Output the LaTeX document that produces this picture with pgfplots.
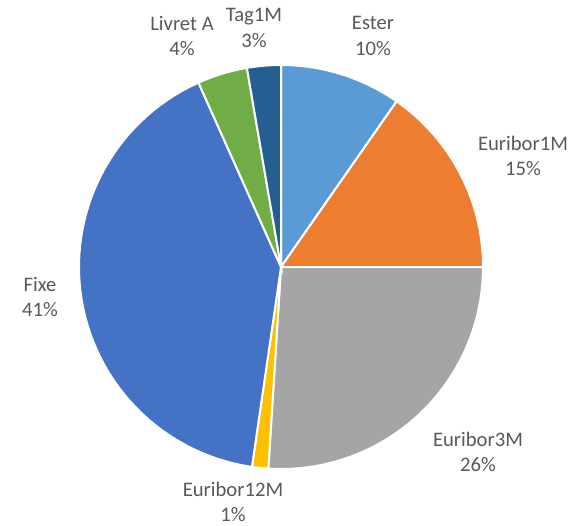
\documentclass[border=0pt]{standalone}
\usepackage{pgfplots}
\pgfplotsset{compat=1.18}
\usepackage{fontspec}
\setmainfont{Carlito}
\definecolor{cEster}{HTML}{5B9BD5}
\definecolor{cE1}{HTML}{ED7D31}
\definecolor{cE3}{HTML}{A5A5A5}
\definecolor{cE12}{HTML}{FFC000}
\definecolor{cFixe}{HTML}{4472C4}
\definecolor{cLivret}{HTML}{70AD47}
\definecolor{cTag}{HTML}{255E91}
\definecolor{txt}{HTML}{595959}
% shares in percent (clockwise from top): Ester 9.7, Euribor1M 15.3, Euribor3M 26.0,
% Euribor12M 1.3, Fixe 41.0, Livret A 4.0, Tag1M 2.7
\newcommand{\slice}[3]{% start%, end%, colour
  \addplot[fill=#3, draw=white, line width=1.5pt, domain={#1*3.6}:{#2*3.6}, samples=60]
    ({281+202*sin(x)},{267-202*cos(x)}) -- (axis cs:281,267) -- cycle;
}
\tikzset{lbl/.style={font=\fontsize{15.5pt}{19pt}\selectfont, text=txt, align=center, inner sep=0pt}}
\begin{document}
\begin{tikzpicture}
\begin{axis}[
  scale only axis, width=432.75pt, height=393.75pt,
  xmin=0, xmax=577, ymin=0, ymax=525, y dir=reverse,
  hide axis, clip=false,
]
\path (rel axis cs:0,0) rectangle (rel axis cs:1,1);
\slice{0}{9.7}{cEster}
\slice{9.7}{25.0}{cE1}
\slice{25.0}{51.0}{cE3}
\slice{51.0}{52.3}{cE12}
\slice{52.3}{93.3}{cFixe}
\slice{93.3}{97.3}{cLivret}
\slice{97.3}{100}{cTag}
\node[lbl] at (axis cs:373,36) {Ester\\10\%};
\node[lbl] at (axis cs:523,156) {Euribor1M\\15\%};
\node[lbl] at (axis cs:478,452) {Euribor3M\\26\%};
\node[lbl] at (axis cs:233,502) {Euribor12M\\1\%};
\node[lbl] at (axis cs:40,297) {Fixe\\41\%};
\node[lbl] at (axis cs:182,36) {Livret A\\4\%};
\node[lbl] at (axis cs:254,28) {Tag1M\\3\%};
\end{axis}
\end{tikzpicture}
\end{document}
